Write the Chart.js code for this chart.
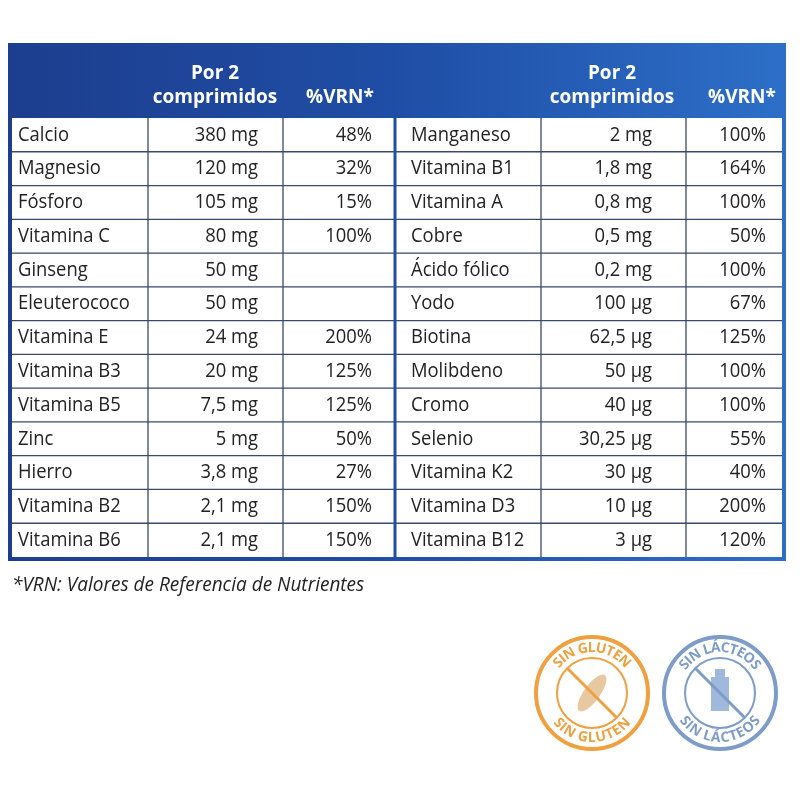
<!DOCTYPE html>
<html><head><meta charset="utf-8">
<script src="https://cdn.jsdelivr.net/npm/chart.js@4"></script>
<style>html,body{margin:0;padding:0;background:#fff}#w{width:800px;height:800px}</style>
</head><body><div id="w"><canvas id="c"></canvas></div>
<script>
const leftNames=["Calcio","Magnesio","Fósforo","Vitamina C","Ginseng","Eleuterococo","Vitamina E","Vitamina B3","Vitamina B5","Zinc","Hierro","Vitamina B2","Vitamina B6"];
const leftAmounts=["380 mg","120 mg","105 mg","80 mg","50 mg","50 mg","24 mg","20 mg","7,5 mg","5 mg","3,8 mg","2,1 mg","2,1 mg"];
const leftVRN=["48%","32%","15%","100%","","","200%","125%","125%","50%","27%","150%","150%"];
const rightNames=["Manganeso","Vitamina B1","Vitamina A","Cobre","Ácido fólico","Yodo","Biotina","Molibdeno","Cromo","Selenio","Vitamina K2","Vitamina D3","Vitamina B12"];
const rightAmounts=["2 mg","1,8 mg","0,8 mg","0,5 mg","0,2 mg","100 µg","62,5 µg","50 µg","40 µg","30,25 µg","30 µg","10 µg","3 µg"];
const rightVRN=["100%","164%","100%","50%","100%","67%","125%","100%","100%","55%","40%","200%","120%"];
const headerLines=["Por 2","comprimidos","%VRN*"];
const footnote="*VRN: Valores de Referencia de Nutrientes";
const badges=["SIN GLUTEN","SIN LÁCTEOS"];

const colEdges=[12,148,283,395,541,686,782];
const tableTop=43, headerBottom=118, rowH=33.77;

function arcText(ctx,text,cx,cy,r,top){
  const ws=[...text].map(ch=>ctx.measureText(ch).width);
  const total=ws.reduce((a,b)=>a+b,0)/r;
  let a = top ? -Math.PI/2-total/2 : Math.PI/2+total/2;
  [...text].forEach((ch,i)=>{
    const da=ws[i]/r; const mid = top? a+da/2 : a-da/2;
    ctx.save();ctx.translate(cx+r*Math.cos(mid),cy+r*Math.sin(mid));
    ctx.rotate(top? mid+Math.PI/2 : mid-Math.PI/2);
    ctx.fillText(ch,0,0);ctx.restore();
    a = top? a+da : a-da;
  });
}

const tablePlugin={id:'tbl',afterDraw(chart){
  const ctx=chart.ctx, X=v=>chart.scales.x.getPixelForValue(v), Y=v=>chart.scales.y.getPixelForValue(v);
  const nRows=leftNames.length, bottom=headerBottom+nRows*rowH;
  ctx.save();
  const g=ctx.createLinearGradient(X(8),0,X(786),0);
  g.addColorStop(0,'#1d3e8e');g.addColorStop(0.5,'#1f4ea6');g.addColorStop(1,'#2d6fc8');
  ctx.fillStyle=g;ctx.fillRect(X(8),Y(tableTop),X(786)-X(8),Y(bottom+4)-Y(tableTop));
  ctx.fillStyle='#fff';ctx.fillRect(X(12),Y(headerBottom),X(782)-X(12),Y(bottom)-Y(headerBottom));
  ctx.fillStyle='#fff';ctx.font='bold 19px "Open Sans"';ctx.textAlign='center';ctx.textBaseline='middle';
  [215,612].forEach(cx=>{ctx.fillText(headerLines[0],X(cx),Y(74));ctx.fillText(headerLines[1],X(cx),Y(98));});
  [340,742].forEach(cx=>ctx.fillText(headerLines[2],X(cx),Y(98)));
  ctx.strokeStyle='#3a4a6a';ctx.lineWidth=1.3;
  for(let i=1;i<nRows;i++){const y=Y(headerBottom+i*rowH);ctx.beginPath();ctx.moveTo(X(12),y);ctx.lineTo(X(782),y);ctx.stroke();}
  [1,2,4,5].forEach(k=>{ctx.beginPath();ctx.moveTo(X(colEdges[k]),Y(headerBottom));ctx.lineTo(X(colEdges[k]),Y(bottom));ctx.stroke();});
  ctx.strokeStyle='#1f4ea6';ctx.lineWidth=3;ctx.beginPath();ctx.moveTo(X(395),Y(headerBottom));ctx.lineTo(X(395),Y(bottom));ctx.stroke();
  ctx.fillStyle='#222';ctx.font='20px "Open Sans"';
  const sx=0.92;
  const put=(t,x,y,al)=>{ctx.save();ctx.translate(x,y);ctx.scale(sx,1);ctx.textAlign=al;ctx.fillText(t,0,0);ctx.restore();};
  for(let i=0;i<nRows;i++){
    const y=Y(headerBottom+(i+0.5)*rowH);
    put(leftNames[i],X(18),y,'left');put(rightNames[i],X(411),y,'left');
    put(leftAmounts[i],X(258),y,'right');put(leftVRN[i],X(372),y,'right');
    put(rightAmounts[i],X(652),y,'right');put(rightVRN[i],X(766),y,'right');
  }
  ctx.textAlign='left';ctx.font='italic 20px "Open Sans"';ctx.fillStyle='#222';
  ctx.save();ctx.translate(X(12),Y(585));ctx.scale(0.95,1);ctx.fillText(footnote,0,0);ctx.restore();
  [[592,'#f0a040',badges[0]],[720,'#7e9cc8',badges[1]]].forEach(([cx,col,t],bi)=>{
    const px=X(cx),py=Y(693);
    ctx.strokeStyle=col;ctx.lineWidth=4;
    ctx.beginPath();ctx.arc(px,py,56,0,2*Math.PI);ctx.stroke();
    ctx.lineWidth=2;ctx.beginPath();ctx.arc(px,py,35,0,2*Math.PI);ctx.stroke();
    ctx.fillStyle=col;ctx.font='bold 14px "Open Sans"';ctx.textAlign='center';ctx.textBaseline='middle';
    arcText(ctx,t,px,py,45,true);arcText(ctx,t,px,py,45,false);
    if(bi===0){ctx.fillStyle='#e8c8a0';ctx.beginPath();ctx.ellipse(px,py,8,22,Math.PI/5,0,2*Math.PI);ctx.fill();}
    else{ctx.fillStyle='#9fb8dc';ctx.fillRect(px-9,py-16,18,34);ctx.fillRect(px-5,py-24,10,8);}
    ctx.strokeStyle=col;ctx.lineWidth=3;ctx.beginPath();ctx.moveTo(px-25,py-25);ctx.lineTo(px+25,py+25);ctx.stroke();
  });
  ctx.restore();
}};

new Chart(document.getElementById('c'),{
  type:'scatter',
  data:{datasets:[{data:[],pointRadius:0}]},
  options:{responsive:true,maintainAspectRatio:false,animation:false,
    layout:{padding:0},
    plugins:{legend:{display:false},tooltip:{enabled:false}},
    scales:{x:{type:'linear',min:0,max:800,display:false},y:{type:'linear',min:0,max:800,reverse:true,display:false}}},
  plugins:[tablePlugin]
});
</script></body></html>
